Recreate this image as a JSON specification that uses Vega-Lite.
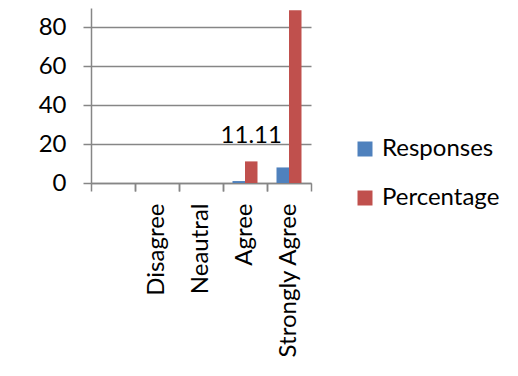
{
  "$schema": "https://vega.github.io/schema/vega-lite/v6.json",
  "width": 220,
  "height": 175,
  "autosize": "none",
  "padding": {"left": 91, "top": 8, "right": 207, "bottom": 193},
  "background": "white",
  "config": {
    "view": {"stroke": null},
    "font": "Lato",
    "axis": {"labelFont": "Lato", "labelFontSize": 24, "labelColor": "#000000", "domainColor": "#868686", "tickColor": "#868686", "gridColor": "#868686", "domainWidth": 1.5},
    "legend": {"labelFont": "Lato", "labelFontSize": 24, "labelColor": "#000000"}
  },
  "data": {
    "values": [
      {"category": " ", "series": "Responses", "value": 0},
      {"category": " ", "series": "Percentage", "value": 0},
      {"category": "Disagree", "series": "Responses", "value": 0},
      {"category": "Disagree", "series": "Percentage", "value": 0},
      {"category": "Neautral", "series": "Responses", "value": 0},
      {"category": "Neautral", "series": "Percentage", "value": 0},
      {"category": "Agree", "series": "Responses", "value": 1},
      {"category": "Agree", "series": "Percentage", "value": 11.11, "label": "11.11"},
      {"category": "Strongly Agree", "series": "Responses", "value": 8},
      {"category": "Strongly Agree", "series": "Percentage", "value": 88.89}
    ]
  },
  "encoding": {
    "xOffset": {"field": "series", "type": "nominal", "sort": ["Responses", "Percentage"], "scale": {"paddingInner": 0, "paddingOuter": 0.76}},
    "y": {
      "field": "value", "type": "quantitative",
      "scale": {"domain": [0, 90], "nice": false},
      "axis": {"values": [0, 20, 40, 60, 80], "title": null, "ticks": true, "tickSize": 8, "tickWidth": 1.5, "labelPadding": 17, "grid": true, "gridWidth": 1.5}
    }
  },
  "layer": [
    {
      "mark": {"type": "bar"},
      "encoding": {
        "x": {
          "field": "category", "type": "nominal",
          "sort": [" ", "Disagree", "Neautral", "Agree", "Strongly Agree"],
          "scale": {"paddingInner": 0, "paddingOuter": 0},
          "axis": {"title": null, "labelAngle": -90, "bandPosition": 0, "tickSize": 8, "tickWidth": 1.5, "labelPadding": 12, "orient": "bottom"}
        },
        "color": {
          "field": "series", "type": "nominal",
          "scale": {"domain": ["Responses", "Percentage"], "range": ["#4F81BD", "#C0504D"]},
          "legend": {"title": null, "orient": "none", "legendX": 262, "legendY": 129, "symbolType": "square", "symbolSize": 225, "rowPadding": 25, "labelOffset": 5, "symbolStrokeWidth": 0}
        }
      }
    },
    {
      "transform": [{"filter": "datum.label != null"}],
      "mark": {"type": "text", "baseline": "alphabetic", "dy": -18, "fontSize": 24, "font": "Lato", "color": "#000000"},
      "encoding": {
        "x": {
          "field": "category", "type": "nominal",
          "sort": [" ", "Disagree", "Neautral", "Agree", "Strongly Agree"],
          "scale": {"paddingInner": 0, "paddingOuter": 0},
          "axis": {"title": null, "orient": "bottom", "bandPosition": 1, "labels": false, "domain": false, "tickSize": 8, "tickWidth": 1.5, "values": [" ", "Disagree", "Neautral", "Agree", "Strongly Agree"]}
        },
        "text": {"field": "label"}
      }
    }
  ],
  "resolve": {"axis": {"x": "independent"}}
}
